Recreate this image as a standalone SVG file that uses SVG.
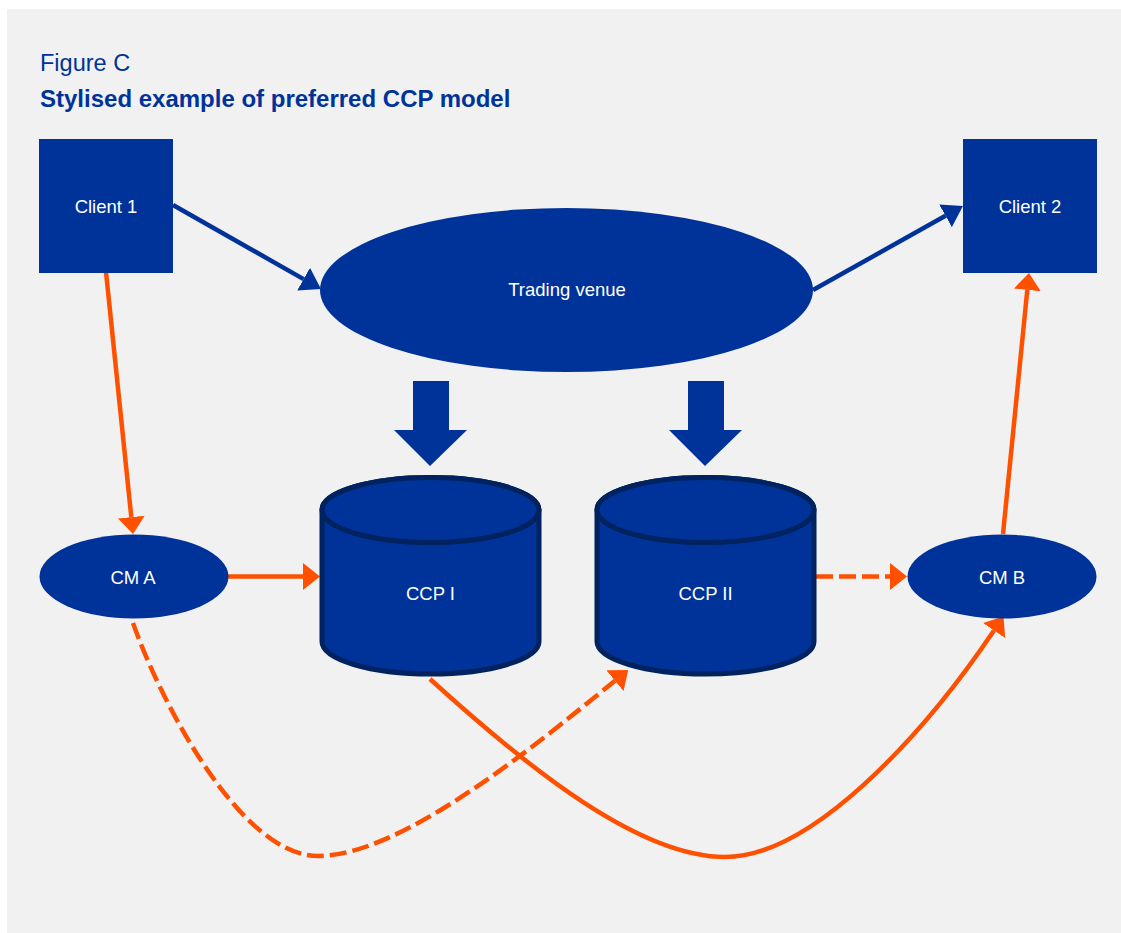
<svg xmlns="http://www.w3.org/2000/svg" width="1121" height="933" viewBox="0 0 1121 933">
<defs>
<style>
.bg{fill:#F1F1F1}
.title{font-family:"Liberation Sans",Arial,sans-serif;fill:#003399}
.lbl{font-family:"Liberation Sans",Arial,sans-serif;font-size:18.5px;fill:#FFFFFF;text-anchor:middle}
.box{fill:#003399}
.cyl{fill:#003399;stroke:#00235F;stroke-width:5}
.blue{fill:none;stroke:#003399;stroke-width:4.5}
.or{fill:none;stroke:#FF5000;stroke-width:4.5}
.dash{stroke-dasharray:17 6}
</style>
<marker id="hb" markerUnits="userSpaceOnUse" viewBox="0 0 20 26" markerWidth="20" markerHeight="26" refX="0" refY="13" orient="auto">
<path d="M0,0 L20,13 L0,26 z" fill="#003399"/>
</marker>
<marker id="ho" markerUnits="userSpaceOnUse" viewBox="0 0 17 27" markerWidth="17" markerHeight="27" refX="0" refY="13.5" orient="auto">
<path d="M0,0 L17,13.5 L0,27 z" fill="#FF5000"/>
</marker>
</defs>
<rect class="bg" x="7" y="9" width="1114" height="924"/>
<text class="title" x="40" y="71" font-size="23.5">Figure C</text>
<text class="title" x="40" y="107" font-size="24" font-weight="bold">Stylised example of preferred CCP model</text>

<g id="connectors">
<path class="blue" d="M173,205 L303.6,279.1" marker-end="url(#hb)"/>
<path class="blue" d="M813,290 L945.5,215.8" marker-end="url(#hb)"/>
<path class="or" d="M106,272 L131.3,517.1" marker-end="url(#ho)"/>
<path class="or" d="M228,576.5 L303,576.5" marker-end="url(#ho)"/>
<path class="or dash" d="M816,576.5 L890,576.5" marker-end="url(#ho)"/>
<path class="or" d="M1003,534 L1027.3,289.9" marker-end="url(#ho)"/>
<path class="or" d="M430,679 C530,770 640,857 725,857 C810,857 920,740 994,630.5" marker-end="url(#ho)"/>
<path class="or dash" d="M133,623 C160,700 240,856 318,856 C400,856 530,750 615,680.7" marker-end="url(#ho)"/>
<polygon fill="#003399" points="413,381 449,381 449,430 467,430 430,466 394,430 413,430"/>
<polygon fill="#003399" points="688,381 724,381 724,430 742,430 705,466 669,430 688,430"/>
</g>

<g id="client1">
<rect class="box" x="39" y="139" width="134" height="134"/>
<text class="lbl" x="106" y="213">Client 1</text>
</g>
<g id="client2">
<rect class="box" x="963" y="139" width="134" height="134"/>
<text class="lbl" x="1030" y="213">Client 2</text>
</g>
<g id="trading-venue">
<ellipse class="box" cx="566.5" cy="290" rx="246.5" ry="82"/>
<text class="lbl" x="567" y="296">Trading venue</text>
</g>
<g id="ccp1">
<path class="cyl" d="M322,510 L322,641.5 A108.5,32.5 0 0 0 539,641.5 L539,510 A108.5,32.5 0 0 0 322,510 z"/>
<ellipse class="cyl" cx="430.5" cy="510" rx="108.5" ry="32.5"/>
<text class="lbl" x="430.5" y="600">CCP I</text>
</g>
<g id="ccp2">
<path class="cyl" d="M597,510 L597,641.5 A108.5,32.5 0 0 0 814,641.5 L814,510 A108.5,32.5 0 0 0 597,510 z"/>
<ellipse class="cyl" cx="705.5" cy="510" rx="108.5" ry="32.5"/>
<text class="lbl" x="705.5" y="600">CCP II</text>
</g>
<g id="cma">
<ellipse class="box" cx="134" cy="576.5" rx="94.5" ry="42"/>
<text class="lbl" x="133" y="584">CM A</text>
</g>
<g id="cmb">
<ellipse class="box" cx="1002" cy="576.5" rx="94.5" ry="42"/>
<text class="lbl" x="1002" y="584">CM B</text>
</g>
</svg>
